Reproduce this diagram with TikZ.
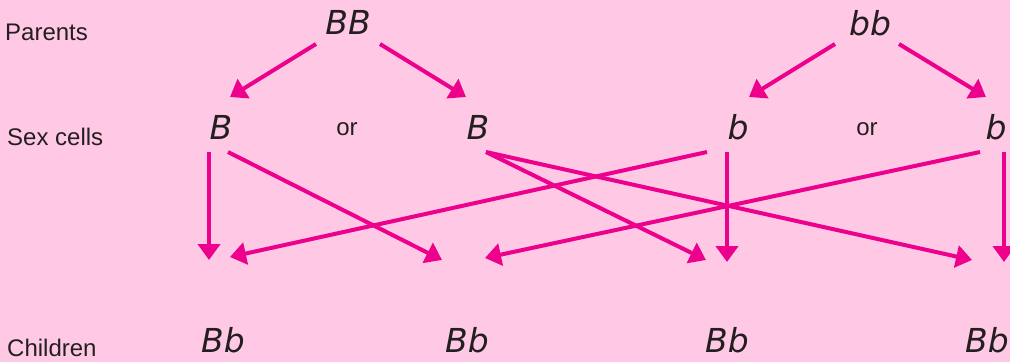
\documentclass[tikz,border=0pt]{standalone}
\usepackage{fontspec}
\setmainfont{DejaVu Sans}
\newfontfamily\labelfont{Liberation Sans}
\usetikzlibrary{arrows.meta}

\begin{document}
\begin{tikzpicture}[x=1pt,y=-1pt]
\definecolor{bgpink}{RGB}{255,201,229}
\definecolor{magenta}{RGB}{236,0,140}
\definecolor{ink}{RGB}{35,31,32}
\tikzset{
	gene/.style={inner sep=0pt,text=ink,font=\fontsize{33}{38}\selectfont\itshape},
	label/.style={inner sep=0pt,anchor=west,text=ink,font=\labelfont\fontsize{24}{28}\selectfont},
	arrow/.style={magenta,line width=4pt,-{Triangle[length=16pt,width=22pt]}}
}

	\fill[bgpink] (0,0) rectangle (1010,362);
	\useasboundingbox (0,0) rectangle (1010,362);
	
	% row labels
	\node[label] (parents) at (5,32.5){Parents};
	\node[label] (sexcells) at (7,137){Sex cells};
	\node[label] (children) at (7,348){Children};
	
	% parents
	\node[gene] (BB) at (348,22){BB};
	\node[gene] (bb) at (870,23){bb};
	
	% sex cells
	\node[gene] (B1) at (221,127){B};
	\node[label,anchor=center] (or1) at (347,129){or};
	\node[gene] (B2) at (478,127){B};
	\node[gene] (b1) at (738,127){b};
	\node[label,anchor=center] (or2) at (867,129){or};
	\node[gene] (b2) at (996,127){b};
	
	% children
	\node[gene] (C1) at (223,340){Bb};
	\node[gene] (C2) at (467,340){Bb};
	\node[gene] (C3) at (727,340){Bb};
	\node[gene] (C4) at (987,340){Bb};
	
	\draw[arrow] ([shift={(-32,22)}]BB.center) -- ([shift={(9,-30)}]B1.center);
	\draw[arrow] ([shift={(32,22)}]BB.center) -- ([shift={(-12,-30)}]B2.center);
	\draw[arrow] ([shift={(-35,21)}]bb.center) -- ([shift={(11,-30)}]b1.center);
	\draw[arrow] ([shift={(29,21)}]bb.center) -- ([shift={(-10,-30)}]b2.center);
	
	\draw[arrow] ([shift={(-12,25)}]B1.center) -- ([shift={(-14,-80)}]C1.center);
	\draw[arrow] ([shift={(7,25)}]B1.center) -- ([shift={(-25,-80)}]C2.center);
	\draw[arrow] ([shift={(-31,25)}]b1.center) -- ([shift={(7,-83)}]C1.center);
	\draw[arrow] ([shift={(-11,25)}]b1.center) -- ([shift={(0,-78)}]C3.center);
	\draw[arrow] ([shift={(8,25)}]B2.center) -- ([shift={(-21,-80)}]C3.center);
	\draw[arrow] ([shift={(8,25)}]B2.center) -- ([shift={(-15,-80)}]C4.center);
	\draw[arrow] ([shift={(-16,25)}]b2.center) -- ([shift={(18,-82)}]C2.center);
	\draw[arrow] ([shift={(8,25)}]b2.center) -- ([shift={(17,-78)}]C4.center);
	
\end{tikzpicture}
\end{document}
